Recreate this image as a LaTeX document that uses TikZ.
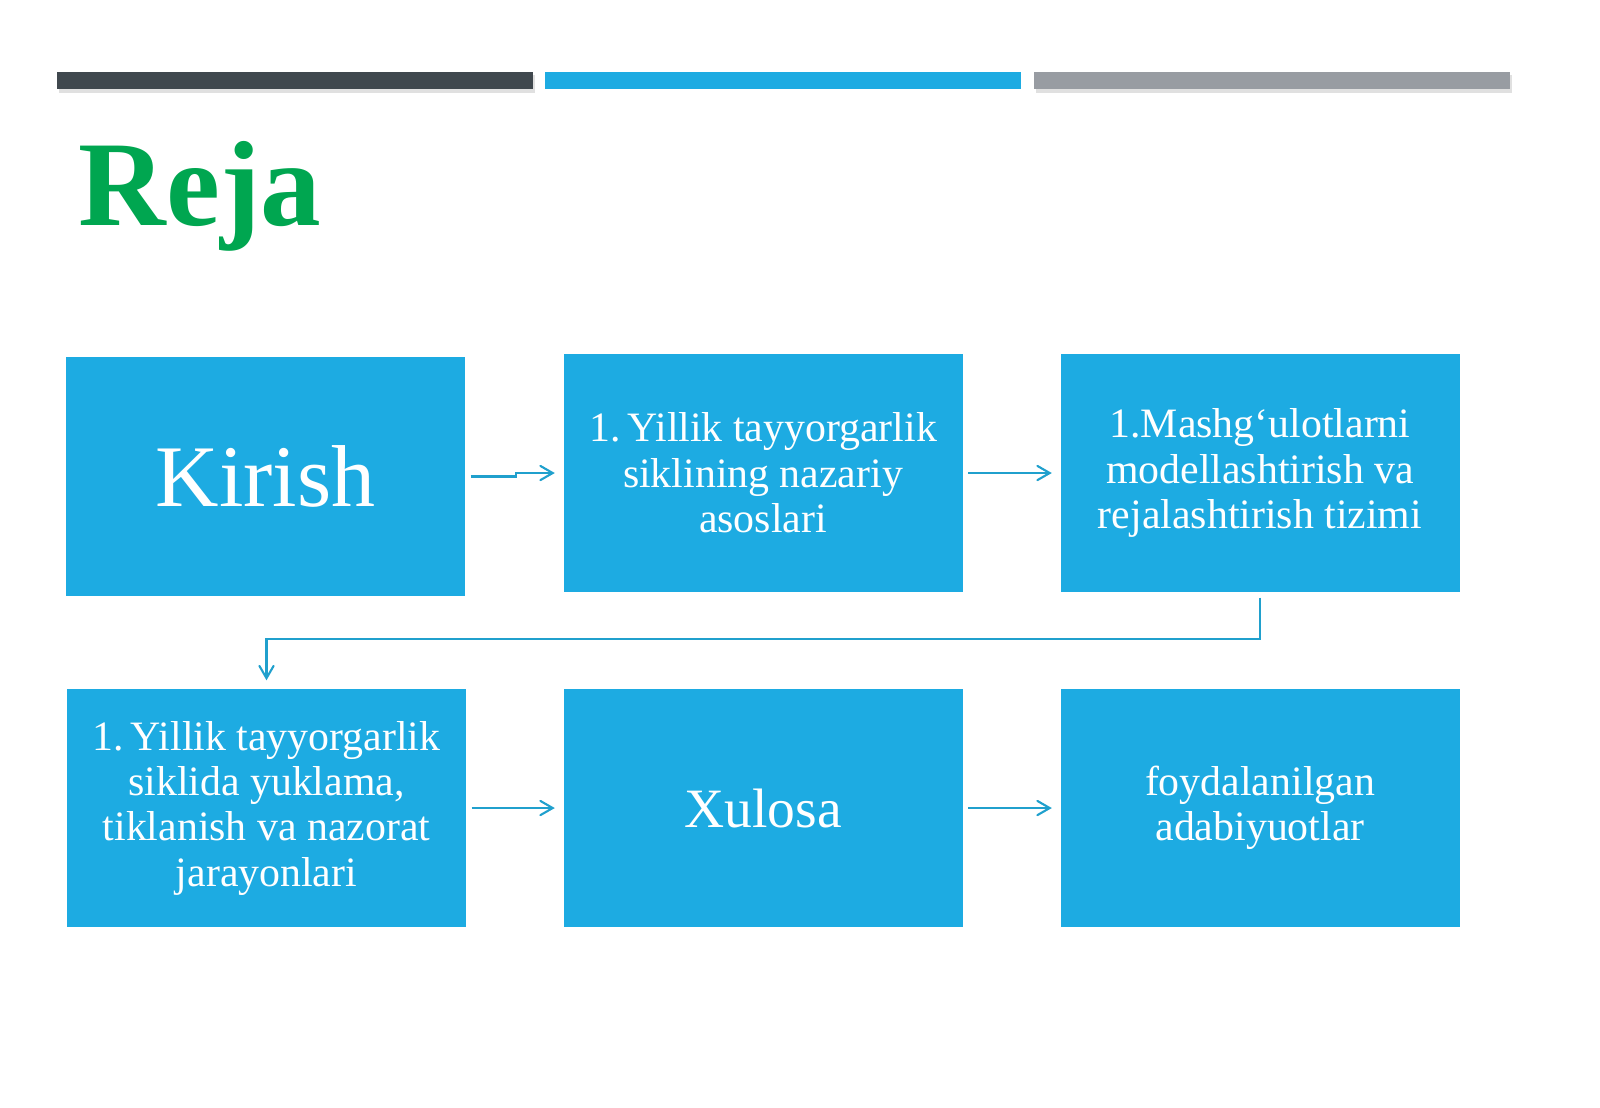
\documentclass[tikz,border=0pt]{standalone}
\usepackage{fontspec}
\setmainfont{Liberation Serif}
\usepackage{tikz}
\usetikzlibrary{arrows}

\definecolor{boxblue}{RGB}{29,171,226}
\definecolor{linkblue}{RGB}{32,160,205}
\definecolor{barDark}{RGB}{64,72,78}
\definecolor{barGray}{RGB}{152,156,162}
\definecolor{titlegreen}{RGB}{0,166,80}

\begin{document}
\begin{tikzpicture}
\tikzset{stage/.style = {shape=rectangle,fill=boxblue,text=white,align=center,
  minimum width=3.99cm,minimum height=2.38cm,inner sep=0pt,
  font=\fontsize{11.9}{12.9}\selectfont}}
\tikzset{edge/.style = {->,> = angle 60,draw=linkblue,line width=0.6pt,
  shorten <=0.05cm,shorten >=0.08cm}}
\useasboundingbox (0,0) rectangle (16,-11.07);
% bars
\fill[black!12] (0.59,-0.75) rectangle (5.35,-0.93);
\fill[black!12] (10.36,-0.75) rectangle (15.12,-0.93);
\fill[barDark] (0.57,-0.72) rectangle (5.33,-0.89);
\fill[boxblue] (5.45,-0.72) rectangle (10.21,-0.89);
\fill[barGray] (10.34,-0.72) rectangle (15.10,-0.89);
% title
\node[anchor=base west,inner sep=0pt,text=titlegreen,
  font=\fontsize{34.5}{38}\selectfont\bfseries] (reja) at (0.78,-2.25) {Reja};
% vertices
\node[stage,minimum height=2.39cm] (kirish) at (2.655,-4.765)
  {\fontsize{25}{28}\selectfont Kirish};
\node[stage] (asos)    at (7.63,-4.73) {1.\,Yillik tayyorgarlik\\siklining nazariy\\asoslari};
\node[stage] (model)   at (12.60,-4.73) {1.Mashg‘ulotlarni\\modellashtirish va\\rejalashtirish tizimi};
\node[stage] (yuklama) at (2.665,-8.08) {1.\,Yillik tayyorgarlik\\siklida yuklama,\\tiklanish va nazorat\\jarayonlari};
\node[stage] (xulosa)  at (7.63,-8.08) {\fontsize{15.8}{19}\selectfont Xulosa};
\node[stage] (adab)    at (12.60,-8.08) {foydalanilgan\\adabiyuotlar};
%edges
\draw[edge] (kirish.east) -- ++(0.5,0) |- (asos.west);
\draw[edge] (asos) to (model);
\draw[edge] (model.south) -- ++(0,-0.46) -| (yuklama.north);
\draw[edge] (yuklama) to (xulosa);
\draw[edge] (xulosa) to (adab);
\end{tikzpicture}
\end{document}
